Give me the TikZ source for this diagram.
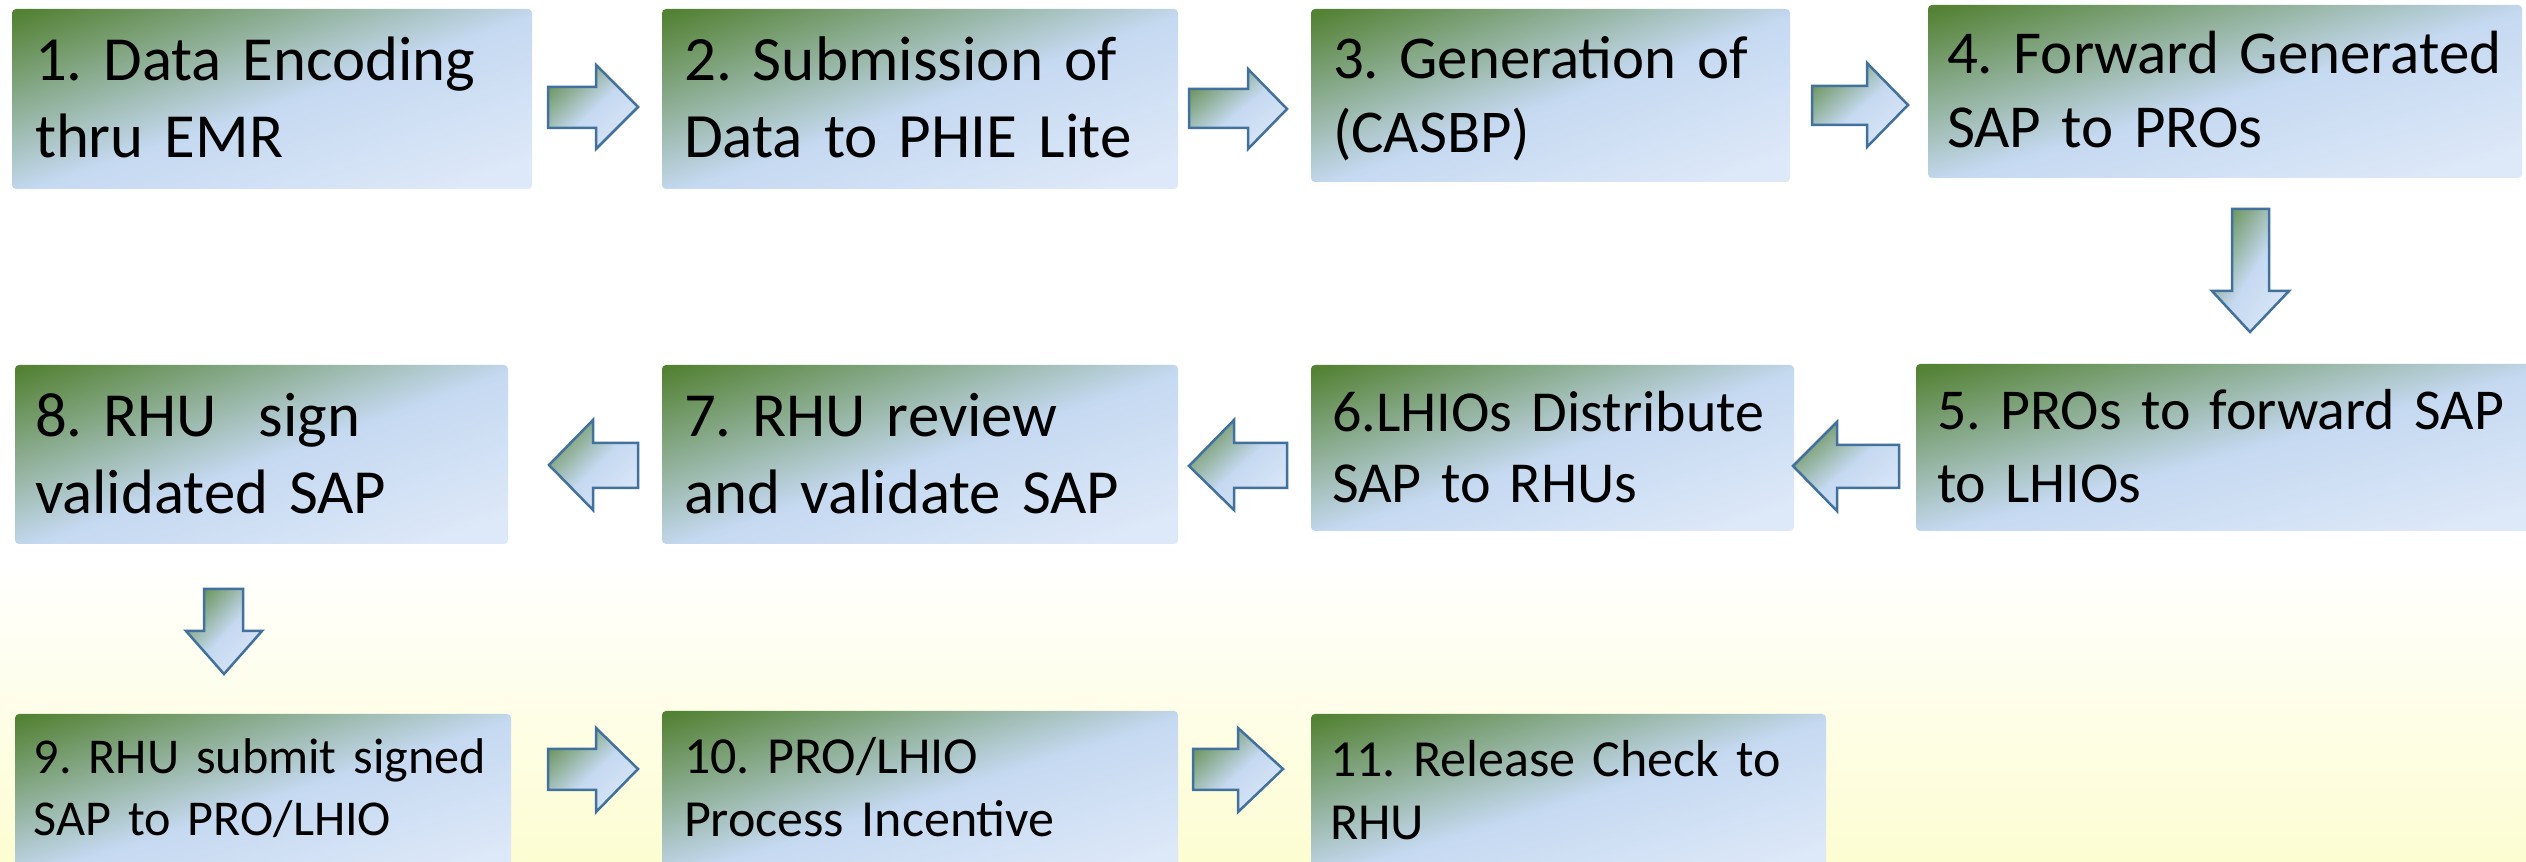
\documentclass[tikz,border=0pt]{standalone}
\usepackage{fontspec}
\setmainfont{Carlito}
\usetikzlibrary{fit,calc}
\definecolor{arrowline}{RGB}{65,113,156}
\definecolor{bgyellow}{RGB}{253,253,210}
\pgfdeclarefunctionalshading{boxgrad}{\pgfpoint{0bp}{0bp}}{\pgfpoint{100bp}{100bp}}{}{
  exch sub 50 add 100 div
  dup 0.48 gt
  {0.48 sub 2.0 mul dup 1 gt {pop 1} if
   dup -0.444 mul 0.773 add exch
   dup -0.341 mul 0.851 add exch
   -0.737 mul 0.945 add}
  {0.48 exch sub 2.5 mul dup 1 gt {pop 1} if
   dup 0.094 mul 0.773 add exch
   dup 0.059 mul 0.851 add exch
   0.028 mul 0.945 add}
  ifelse
}
\tikzset{
  box/.style={shade, shading=boxgrad, rounded corners=0.04cm, inner sep=0pt, outer sep=0pt, draw=none},
  blk/.style={draw=arrowline, line width=0.025cm, shade, shading=boxgrad, line join=miter},
  lbl/.style={anchor=base west, inner sep=0pt, outer sep=0pt, align=left, text=black},
  txtsize/.style 2 args={font=\fontsize{#1}{#2}\selectfont}
}
\frenchspacing
\hyphenpenalty=10000
\begin{document}
\begin{tikzpicture}[x=0.01cm, y=0.01cm]
\useasboundingbox (0,0) rectangle (2526,-862);
\fill[white] (0,0) rectangle (2526,-862);
\shade[top color=white, bottom color=bgyellow] (0,-560) rectangle (2526,-862);

% boxes
\node[box, fit={(12,-9) (532,-189)}] (b1) {};
\node[box, fit={(662,-9) (1178,-189)}] (b2) {};
\node[box, fit={(1311,-9) (1790,-182)}] (b3) {};
\node[box, fit={(1928,-5) (2522,-178)}] (b4) {};
\node[box, fit={(1916,-364) (2540,-531)}] (b5) {};
\node[box, fit={(1311,-365) (1794,-531)}] (b6) {};
\node[box, fit={(662,-365) (1178,-544)}] (b7) {};
\node[box, fit={(15,-365) (508,-544)}] (b8) {};
\node[box, fit={(15,-714) (511,-875)}] (b9) {};
\node[box, fit={(662,-711) (1178,-875)}] (b10) {};
\node[box, fit={(1311,-714) (1826,-875)}] (b11) {};

% texts
\node[lbl, txtsize={17.85pt}{21.9pt}, text width=4.9cm] (t1) at ($(b1.north west)+(23,-72)$) {1. Data Encoding\\thru EMR};
\node[lbl, txtsize={17.95pt}{21.9pt}, text width=4.9cm] (t2) at ($(b2.north west)+(22,-72)$) {2. Submission of\\Data to PHIE Lite};
\node[lbl, txtsize={17.3pt}{20.8pt}, text width=4.5cm] (t3) at ($(b3.north west)+(22,-70)$) {3. Generation of\\(CASBP)};
\node[lbl, txtsize={17.35pt}{20.8pt}, text width=5.7cm] (t4) at ($(b4.north west)+(19,-69)$) {4. Forward Generated\\SAP to PROs};
\node[lbl, txtsize={16.45pt}{20.5pt}, text width=5.9cm] (t5) at ($(b5.north west)+(21,-66)$) {5. PROs to forward SAP\\to LHIOs};
\node[lbl, txtsize={16.5pt}{20.0pt}, text width=4.6cm] (t6) at ($(b6.north west)+(21,-67)$) {6.LHIOs Distribute\\SAP to RHUs};
\node[lbl, txtsize={17.85pt}{21.9pt}, text width=4.9cm] (t7) at ($(b7.north west)+(22,-72)$) {7. RHU review\\and validate SAP};
\node[lbl, txtsize={17.85pt}{21.9pt}, text width=4.7cm] (t8) at ($(b8.north west)+(20,-72)$) {8. RHU\ \ sign\\validated SAP};
\node[lbl, txtsize={14.26pt}{17.4pt}, text width=4.7cm] (t9) at ($(b9.north west)+(19,-60)$) {9. RHU submit signed\\SAP to PRO/LHIO};
\node[lbl, txtsize={14.8pt}{17.9pt}, text width=4.9cm] (t10) at ($(b10.north west)+(22,-63)$) {10. PRO/LHIO\\Process Incentive};
\node[lbl, txtsize={14.8pt}{17.9pt}, text width=4.9cm] (t11) at ($(b11.north west)+(19,-63)$) {11. Release Check to\\RHU};

% block arrows
\path[blk] (548,-87) -- (596,-87) -- (596,-65) -- (638,-107) -- (596,-149) -- (596,-128) -- (548,-128) -- cycle;
\path[blk] (1189,-89) -- (1248,-89) -- (1248,-69) -- (1287,-109) -- (1248,-149) -- (1248,-128) -- (1189,-128) -- cycle;
\path[blk] (1812,-86) -- (1867,-86) -- (1867,-63) -- (1908,-105) -- (1867,-147) -- (1867,-125) -- (1812,-125) -- cycle;
\path[blk] (2232,-209) -- (2269,-209) -- (2269,-291) -- (2289,-291) -- (2250,-332) -- (2212,-291) -- (2232,-291) -- cycle;
\path[blk] (1899,-445) -- (1837,-445) -- (1837,-422) -- (1793,-466) -- (1837,-511) -- (1837,-488) -- (1899,-488) -- cycle;
\path[blk] (1287,-443) -- (1234,-443) -- (1234,-420) -- (1189,-466) -- (1234,-510) -- (1234,-488) -- (1287,-488) -- cycle;
\path[blk] (638,-443) -- (593,-443) -- (593,-420) -- (549,-465) -- (593,-510) -- (593,-488) -- (638,-488) -- cycle;
\path[blk] (204,-589) -- (243,-589) -- (243,-631) -- (262,-631) -- (224,-674) -- (186,-631) -- (204,-631) -- cycle;
\path[blk] (548,-749) -- (596,-749) -- (596,-728) -- (638,-769) -- (596,-812) -- (596,-790) -- (548,-790) -- cycle;
\path[blk] (1193,-749) -- (1238,-749) -- (1238,-728) -- (1283,-769) -- (1238,-812) -- (1238,-790) -- (1193,-790) -- cycle;
\end{tikzpicture}
\end{document}
